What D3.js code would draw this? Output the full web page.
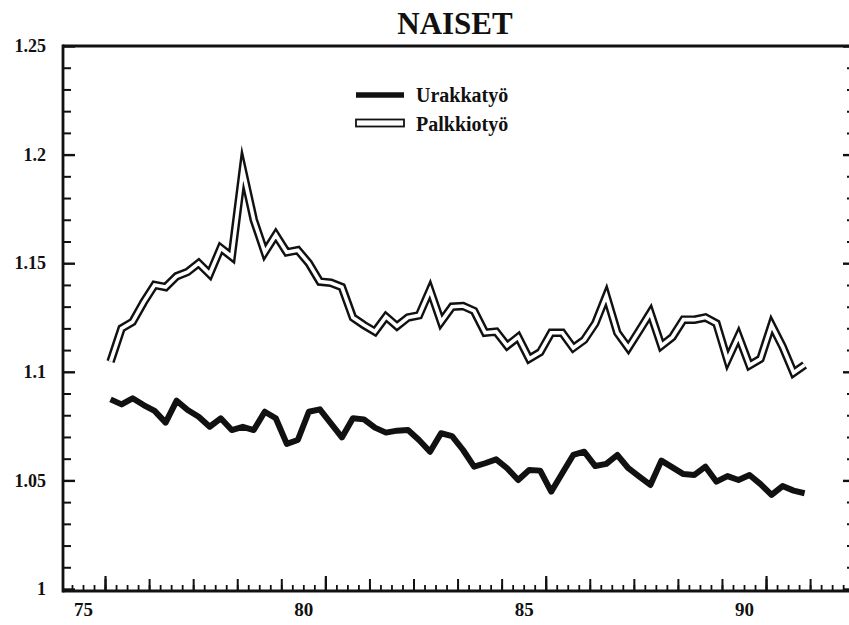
<!DOCTYPE html>
<html><head><meta charset="utf-8">
<script src="https://cdn.jsdelivr.net/npm/d3@7"></script>
<style>
html,body{margin:0;padding:0;background:#fff;}
svg text{font-family:"Liberation Serif","Times New Roman",serif;font-weight:bold;fill:#111;}
</style></head>
<body>
<svg id="chart" width="849" height="625"></svg>
<script>
// Quarterly observations, 1975 Q3 .. 1991 Q2 (x = year + (quarter-0.5)/4)
const startYear = 75.625;
const urakkatyo = [1.0873,1.085,1.0878,1.0847,1.082,1.0766,1.0867,1.0824,1.0793,1.0747,
  1.0786,1.0732,1.0747,1.0732,1.0816,1.0786,1.0668,1.0686,1.0816,1.0827,
  1.0763,1.0698,1.0786,1.0781,1.0743,1.072,1.0729,1.0732,1.0686,1.0632,
  1.0717,1.0704,1.064,1.0563,1.0579,1.0597,1.0556,1.0502,1.0548,1.0545,
  1.0448,1.0533,1.0617,1.0632,1.0566,1.0576,1.0617,1.0556,1.0517,1.0479,
  1.0591,1.056,1.0529,1.0525,1.0563,1.0494,1.052,1.0502,1.0525,1.0483,
  1.0433,1.0474,1.0453,1.0441];
const palkkiotyo = [1.1047,1.120,1.123,1.132,1.140,1.139,1.144,1.146,1.150,1.145,
  1.157,1.153,1.193,1.170,1.155,1.163,1.155,1.156,1.150,1.1415,
  1.141,1.139,1.125,1.1215,1.1185,1.1254,1.121,1.125,1.126,1.1377,
  1.123,1.130,1.1303,1.128,1.118,1.1185,1.112,1.116,1.106,1.109,
  1.118,1.118,1.111,1.1147,1.1223,1.135,1.118,1.111,1.119,1.1272,
  1.112,1.116,1.124,1.124,1.125,1.1223,1.1054,1.1165,1.103,1.106,
  1.1216,1.1116,1.0996,1.1031];
const seriesNames = ["Urakkatyö","Palkkiotyö"];
const chartTitle = "NAISET";
const yTickValues = [1, 1.05, 1.1, 1.15, 1.2, 1.25];
const yTickLabels = ["1", "1.05", "1.1", "1.15", "1.2", "1.25"];
const xTickValues = [75, 80, 85, 90];
const xTickLabels = ["75", "80", "85", "90"];

(function () {
const svg = d3.select("#chart");
const x = d3.scaleLinear().domain([75, 90]).range([83, 744]);
const y = d3.scaleLinear().domain([1, 1.25]).range([589, 46]);
const pLeft = 63, pRight = 855, pTop = y(1.25), pBottom = 591;
const xs = i => startYear + 0.25 * i;

// Title
svg.append("text").attr("x", 455).attr("y", 34).attr("text-anchor", "middle")
  .style("font-size", "31px").text(chartTitle);

// Y minor ticks (every 0.01)
const yMinor = d3.range(0, 26).map(i => +(1 + i * 0.01).toFixed(2));
const yMinorOnly = yMinor.filter(v => Math.round(v * 100) % 5 !== 0);
svg.append("g").attr("transform", `translate(${pLeft},0)`)
  .call(d3.axisLeft(y).tickValues(yMinorOnly).tickSize(-8).tickFormat(""))
  .call(g => g.select(".domain").remove())
  .call(g => g.selectAll("line").attr("stroke", "#111").attr("stroke-width", 2));
svg.append("g").attr("transform", `translate(${pLeft},0)`)
  .call(d3.axisLeft(y).tickValues(yTickValues).tickSize(-12).tickPadding(17)
    .tickFormat((d, i) => yTickLabels[i]))
  .call(g => g.select(".domain").remove())
  .call(g => g.selectAll("line").attr("stroke", "#111").attr("stroke-width", 2.4))
  .call(g => g.selectAll("text").style("font-size", "18px")
    .style("font-family", "'Liberation Serif',serif").style("font-weight", "bold").attr("fill", "#111"));
// right side ticks
svg.append("g").attr("transform", `translate(${pRight},0)`)
  .call(d3.axisRight(y).tickValues(yMinorOnly).tickSize(-8).tickFormat(""))
  .call(g => g.select(".domain").remove())
  .call(g => g.selectAll("line").attr("stroke", "#111").attr("stroke-width", 2));
svg.append("g").attr("transform", `translate(${pRight},0)`)
  .call(d3.axisRight(y).tickValues(yTickValues).tickSize(-12).tickFormat(""))
  .call(g => g.select(".domain").remove())
  .call(g => g.selectAll("line").attr("stroke", "#111").attr("stroke-width", 2.4));

// X ticks: quarters, years, 5-years
const xq = d3.range(0, 72).map(i => 74.75 + 0.25 * i).filter(v => x(v) > pLeft + 2 && x(v) < 849);
const xy = xq.filter(v => Math.abs((v - 75.5) % 1) < 1e-6);
const x5 = xy.filter(v => Math.abs((v - 75.5) % 5) < 1e-6);
function xTicks(vals, size, w) {
  svg.append("g").attr("transform", `translate(0,${pBottom})`)
    .call(d3.axisBottom(x).tickValues(vals).tickSize(-size).tickFormat(""))
    .call(g => g.select(".domain").remove())
    .call(g => g.selectAll("line").attr("stroke", "#111").attr("stroke-width", w));
}
xTicks(xq, 6, 1.8);
xTicks(xy, 12, 2);
xTicks(x5, 15, 2.2);
svg.append("g").attr("transform", `translate(0,${pBottom})`)
  .call(d3.axisBottom(x).tickValues(xTickValues).tickSize(0).tickPadding(12)
    .tickFormat((d, i) => xTickLabels[i]))
  .call(g => g.select(".domain").remove())
  .call(g => g.selectAll("text").style("font-size", "19px")
    .style("font-family", "'Liberation Serif',serif").style("font-weight", "bold").attr("fill", "#111"));

// Frame
svg.append("line").attr("x1", pLeft).attr("x2", 860).attr("y1", pTop).attr("y2", pTop)
  .attr("stroke", "#111").attr("stroke-width", 2.8);
svg.append("line").attr("x1", pLeft).attr("x2", pLeft).attr("y1", pTop - 1.4).attr("y2", pBottom + 1.4)
  .attr("stroke", "#111").attr("stroke-width", 2.8);
svg.append("line").attr("x1", pLeft).attr("x2", 860).attr("y1", pBottom).attr("y2", pBottom)
  .attr("stroke", "#111").attr("stroke-width", 2.8);

// Lines
const line = d3.line().x((d, i) => x(xs(i))).y(d => y(d));
svg.append("path").datum(urakkatyo).attr("d", line)
  .attr("fill", "none").attr("stroke", "#111").attr("stroke-width", 6)
  .attr("stroke-linejoin", "round").attr("stroke-linecap", "butt");
svg.append("path").datum(palkkiotyo).attr("d", line)
  .attr("fill", "none").attr("stroke", "#111").attr("stroke-width", 8.5)
  .attr("stroke-linejoin", "miter").attr("stroke-miterlimit", 6);
svg.append("path").datum(palkkiotyo).attr("d", line)
  .attr("fill", "none").attr("stroke", "#fff").attr("stroke-width", 3.6)
  .attr("stroke-linejoin", "miter").attr("stroke-miterlimit", 6);

// Legend
const lg = svg.append("g");
lg.append("line").attr("x1", 356).attr("x2", 404).attr("y1", 95).attr("y2", 95)
  .attr("stroke", "#111").attr("stroke-width", 5.5);
lg.append("rect").attr("x", 356).attr("y", 119.5).attr("width", 48).attr("height", 7)
  .attr("fill", "#fff").attr("stroke", "#111").attr("stroke-width", 1.8);
lg.append("text").attr("x", 416).attr("y", 101.5).style("font-size", "20px").text(seriesNames[0]);
lg.append("text").attr("x", 416).attr("y", 130.5).style("font-size", "20px").text(seriesNames[1]);
})();
</script>
</body></html>
